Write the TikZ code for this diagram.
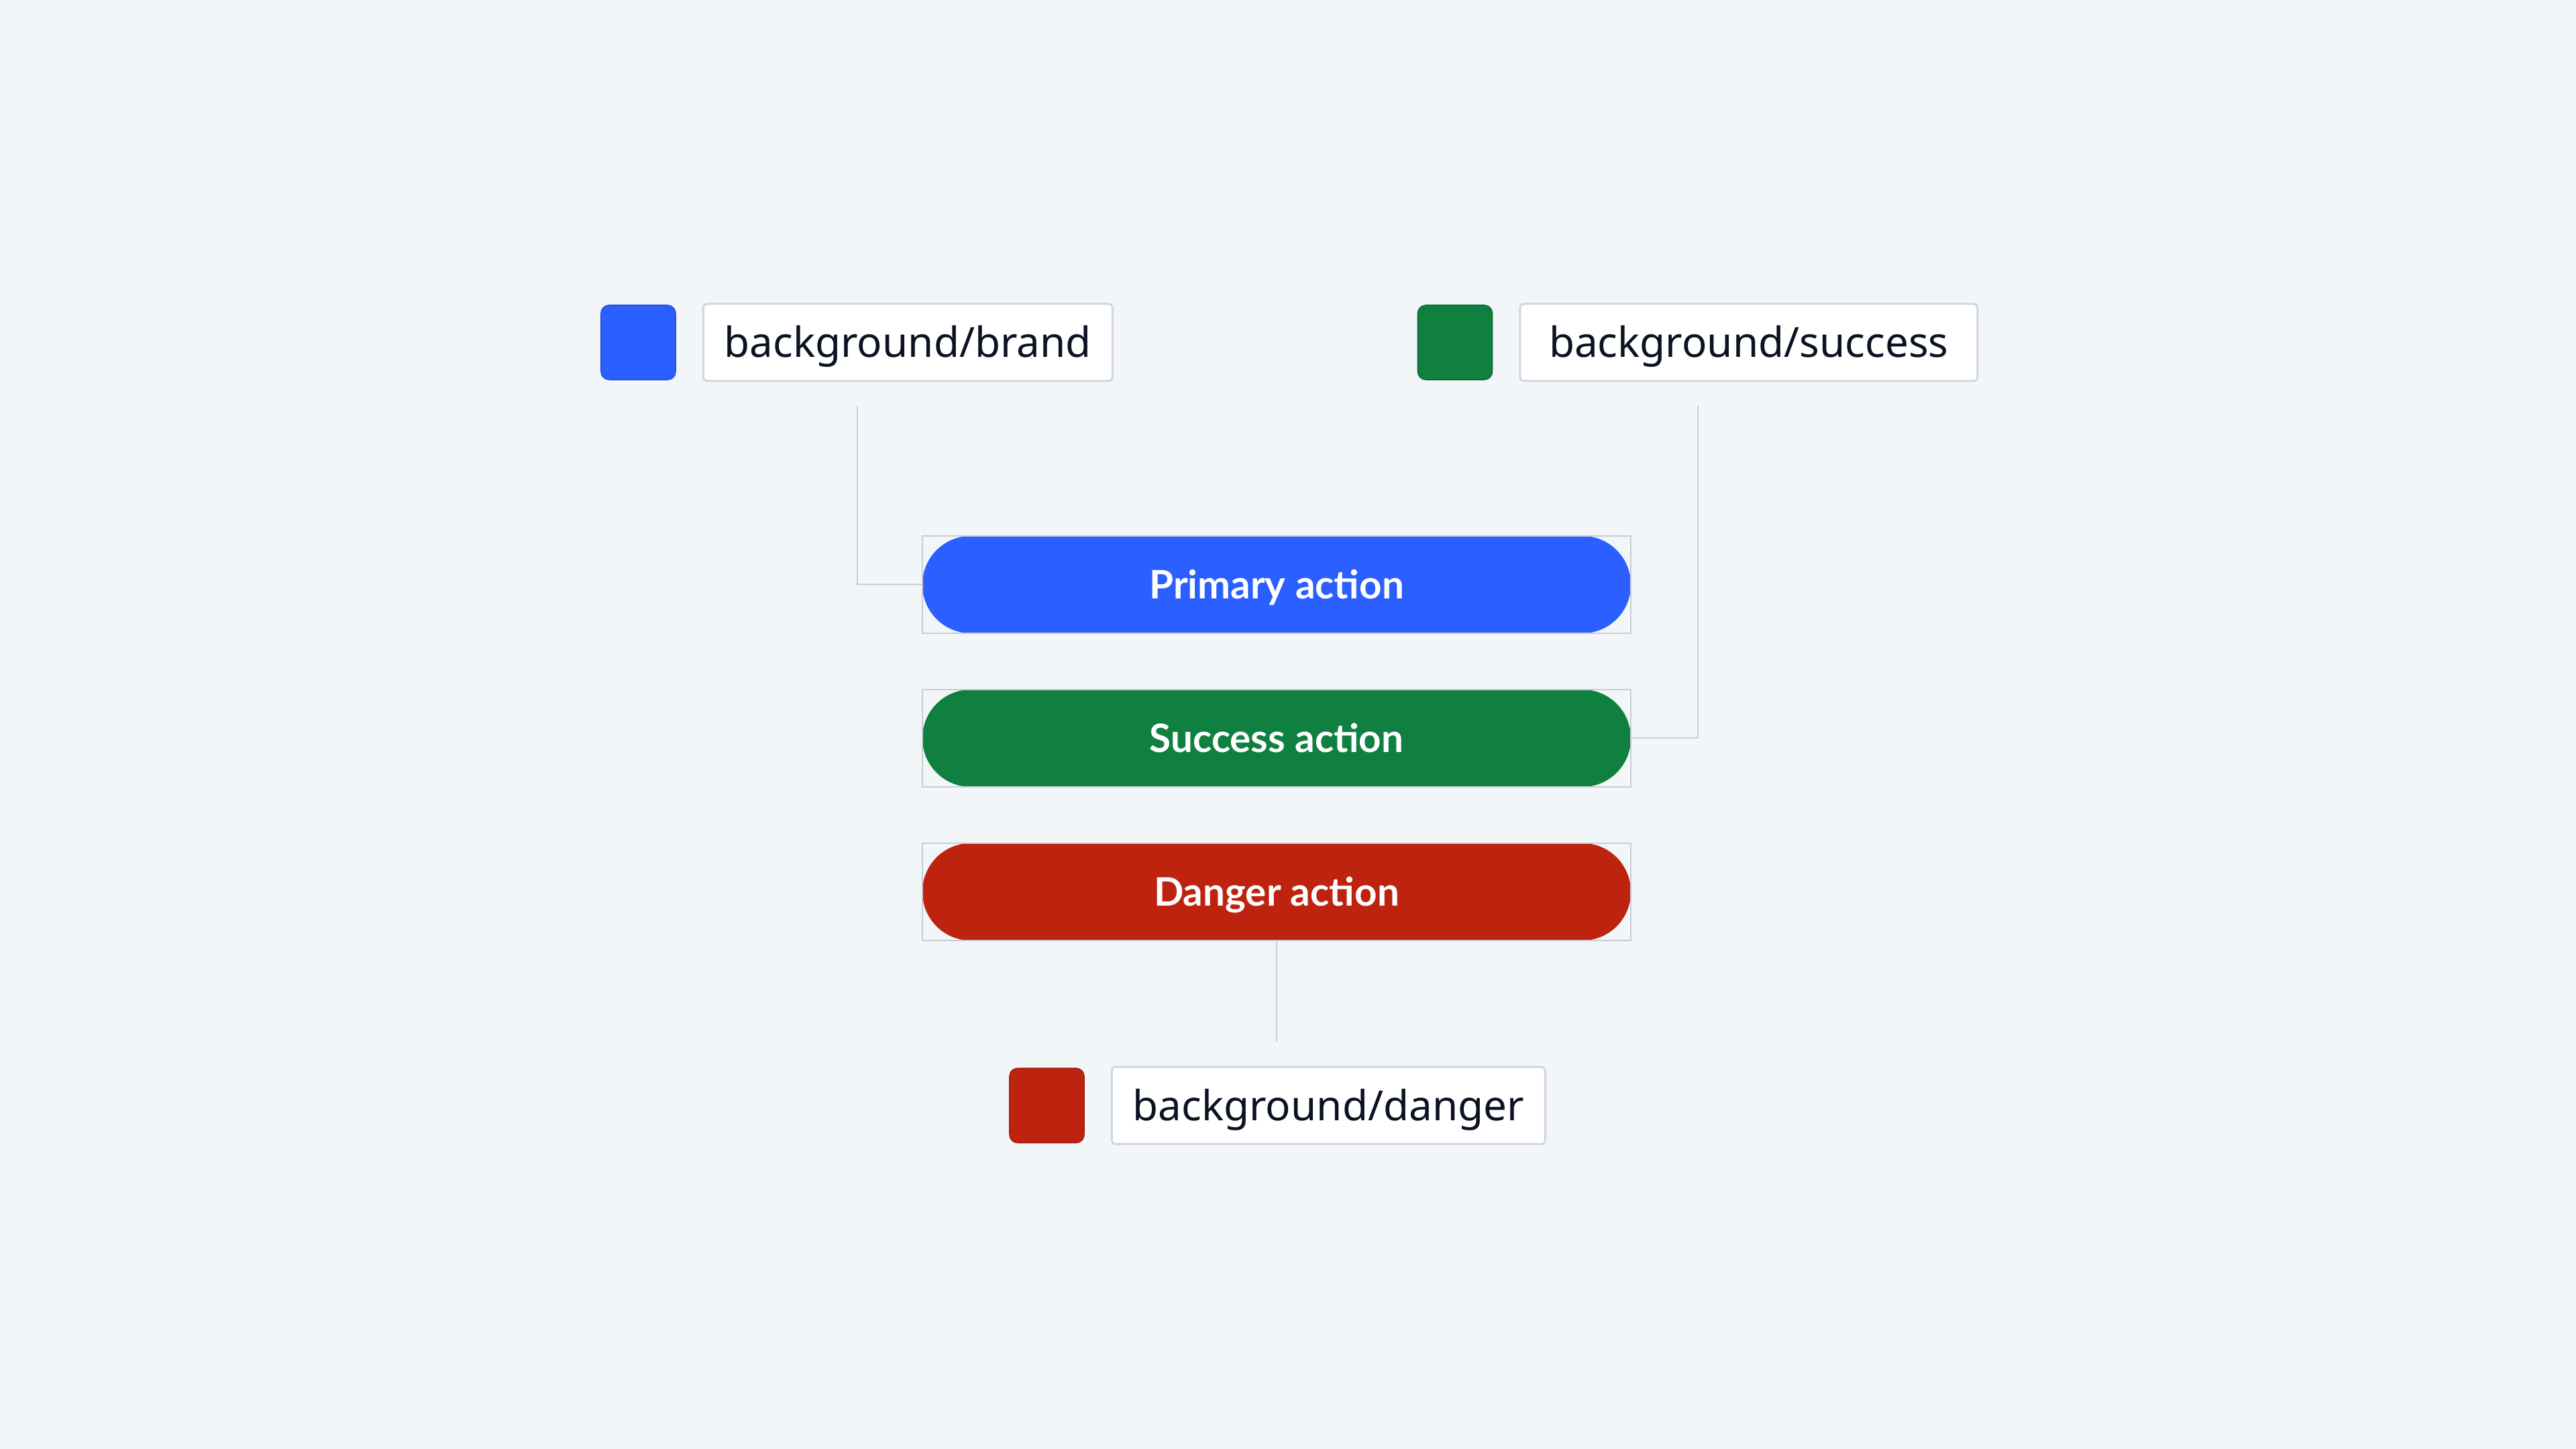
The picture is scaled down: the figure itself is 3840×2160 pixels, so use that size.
\documentclass[tikz,border=0pt]{standalone}
\usepackage{fontspec}
\setmainfont{Noto Sans}
\newfontfamily\btnfont{Lato}
\usetikzlibrary{positioning,fit,calc}

\definecolor{pagebg}{HTML}{F2F6F9}
\definecolor{brandblue}{HTML}{2C5FFF}
\definecolor{succgreen}{HTML}{0F8040}
\definecolor{dangerred}{HTML}{BE2310}
\definecolor{ink}{HTML}{0B1222}
\definecolor{lblborder}{HTML}{D0D7E0}
\definecolor{framegray}{HTML}{C8CDD4}

\begin{document}
\begin{tikzpicture}[x=0.25pt,y=0.25pt,
  swatch/.style={rounded corners=3pt, minimum size=27.75pt, inner sep=0pt, fill=#1, draw=#1!85!black, line width=0.4pt},
  tokenlbl/.style={draw=lblborder, line width=0.75pt, fill=white, rounded corners=1.5pt, minimum height=28.75pt, inner sep=0pt, text height=12pt, text depth=0.8pt, text=ink, font=\fontsize{15.5}{18}\selectfont},
  btn/.style={draw=framegray, line width=0.5pt, minimum width=264pt, minimum height=36.25pt, inner sep=0pt, text height=10.3pt, text depth=0pt, text=white, font=\btnfont\bfseries\fontsize{14.6}{17}\selectfont,
    path picture={\fill[#1, rounded corners=18pt] (path picture bounding box.south west) rectangle (path picture bounding box.north east);}},
  link/.style={draw=framegray, line width=0.5pt},
  node distance=9.75pt]
\useasboundingbox (0,0) rectangle (3840,2160);
\fill[pagebg] (0,0) rectangle (3840,2160);

% colour tokens
\node[swatch=brandblue] (brandsw) at (951.5,1649.5) {};
\node[tokenlbl, minimum width=152.5pt, right=of brandsw] (brandlbl) {background/brand};
\node[swatch=succgreen] (succsw) at (2169,1649.5) {};
\node[tokenlbl, minimum width=170.5pt, right=of succsw] (succlbl) {background/success};
\node[swatch=dangerred] (dangersw) at (1560.5,512) {};
\node[tokenlbl, minimum width=161.5pt, right=of dangersw] (dangerlbl) {background/danger};

\node[fit=(brandsw)(brandlbl), inner sep=0pt] (brandgrp) {};
\node[fit=(succsw)(succlbl), inner sep=0pt] (succgrp) {};
\node[fit=(dangersw)(dangerlbl), inner sep=0pt] (dangergrp) {};

% buttons
\node[btn=brandblue] (primary) at (1903,1288.5) {Primary action};
\node[btn=succgreen, below=20.5pt of primary] (success) {Success action};
\node[btn=dangerred, below=20.5pt of success] (danger) {Danger action};

% connectors
\draw[link] ([yshift=-8.75pt]brandgrp.south) |- (primary.west);
\draw[link] ([yshift=-8.75pt]succgrp.south) |- (success.east);
\draw[link] (danger.south) -- ($(danger.south |- dangergrp.north)+(0,35)$);
\end{tikzpicture}
\end{document}
